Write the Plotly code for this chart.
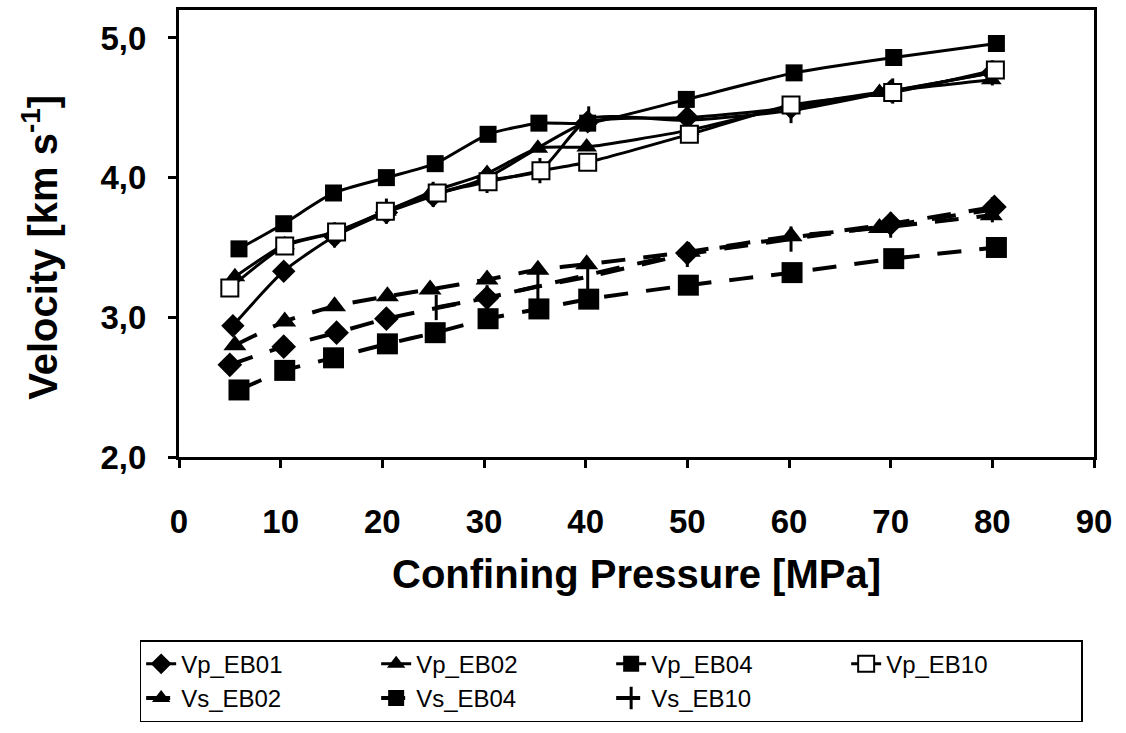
import plotly.graph_objects as go

# ---- data ----
vp_eb01_x = [5.3, 10.3, 15.3, 20.4, 25.0, 30.3, 40.2, 50.0, 60.2, 70.0, 80.0]
vp_eb01_y = [2.94, 3.33, 3.58, 3.75, 3.87, 4.00, 4.40, 4.43, 4.50, 4.62, 4.75]

vp_eb02_x = [5.5, 10.4, 15.3, 20.4, 24.9, 30.3, 35.3, 40.1, 50.2, 60.2, 68.9, 79.9]
vp_eb02_y = [3.29, 3.52, 3.61, 3.76, 3.90, 4.03, 4.21, 4.22, 4.34, 4.51, 4.61, 4.70]

vp_eb04_x = [5.9, 10.3, 15.2, 20.4, 25.2, 30.4, 35.4, 40.2, 49.9, 60.5, 70.3, 80.4]
vp_eb04_y = [3.49, 3.67, 3.89, 4.00, 4.10, 4.31, 4.39, 4.39, 4.56, 4.75, 4.86, 4.96]

vp_eb10_x = [5.0, 10.4, 15.5, 20.3, 25.4, 30.4, 35.6, 40.2, 50.2, 60.2, 70.2, 80.3]
vp_eb10_y = [3.21, 3.51, 3.61, 3.76, 3.89, 3.97, 4.05, 4.11, 4.31, 4.52, 4.61, 4.77]

# extra solid series with bar markers (not shown in the legend)
vp_bar_x = [15.3, 20.4, 25.0, 30.3, 35.5, 40.3, 50.0, 60.2, 70.2, 80.0]
vp_bar_y = [3.59, 3.76, 3.88, 3.98, 4.05, 4.42, 4.41, 4.48, 4.62, 4.75]

# extra dashed diamond series (not shown in the legend)
vs_eb01_x = [5.0, 10.3, 15.5, 20.4, 30.3, 50.0, 70.0, 80.2]
vs_eb01_y = [2.66, 2.79, 2.89, 2.99, 3.14, 3.46, 3.67, 3.79]

vs_eb02_x = [5.5, 10.4, 15.3, 20.5, 24.7, 30.3, 35.3, 40.1, 50.2, 60.2, 68.9, 79.9]
vs_eb02_y = [2.80, 2.97, 3.08, 3.15, 3.20, 3.27, 3.34, 3.38, 3.47, 3.58, 3.64, 3.73]

vs_eb04_x = [5.9, 10.4, 15.2, 20.5, 25.2, 30.4, 35.4, 40.3, 50.1, 60.3, 70.3, 80.4]
vs_eb04_y = [2.48, 2.62, 2.71, 2.81, 2.89, 2.99, 3.06, 3.13, 3.23, 3.32, 3.42, 3.50]

vs_eb10_x = [25.3, 30.3, 35.3, 40.2, 50.0, 60.2, 70.0, 80.0]
vs_eb10_y = [3.07, 3.14, 3.22, 3.29, 3.45, 3.56, 3.66, 3.77]

x_ticks = [0, 10, 20, 30, 40, 50, 60, 70, 80, 90]
y_ticks = [2.0, 3.0, 4.0, 5.0]

FONT = "Arial, Liberation Sans, sans-serif"
BLACK = "black"
DASH = "24px,18px"

fig = go.Figure()


def add(name, x, y, symbol, size, dash="solid", show=True, open_=False, lw=3):
    marker = dict(symbol=symbol, size=size, color="white" if open_ else BLACK,
                  line=dict(color=BLACK, width=2 if open_ else 0))
    if symbol.startswith("line"):
        marker = dict(symbol=symbol, size=size, color=BLACK,
                      line=dict(color=BLACK, width=3))
    fig.add_trace(go.Scatter(
        x=x, y=y, name=name, mode="lines+markers", showlegend=show,
        line=dict(color=BLACK, width=lw, dash=dash, shape="spline", smoothing=0.6),
        marker=marker,
    ))


# hidden series first (drawn beneath)
add("Vs_EB01", vs_eb01_x, vs_eb01_y, "diamond", 19, dash=DASH, show=False, lw=4)
add("Vp_EB10b", vp_bar_x, vp_bar_y, "line-ns", 18, show=False)

add("Vp_EB01", vp_eb01_x, vp_eb01_y, "diamond", 18)
add("Vp_EB02", vp_eb02_x, vp_eb02_y, "triangle-up", 18)
add("Vp_EB04", vp_eb04_x, vp_eb04_y, "square", 17)
add("Vp_EB10", vp_eb10_x, vp_eb10_y, "square", 17, open_=True)
add("Vs_EB02", vs_eb02_x, vs_eb02_y, "triangle-up", 20, dash=DASH, lw=4)
add("Vs_EB04", vs_eb04_x, vs_eb04_y, "square", 21, dash=DASH, lw=4)
add("Vs_EB10", vs_eb10_x, vs_eb10_y, "line-ns", 18, dash=DASH, lw=4)

fig.update_layout(
    width=1126, height=733,
    margin=dict(l=179, r=32, t=10, b=276, autoexpand=False),
    paper_bgcolor="white", plot_bgcolor="white",
    font=dict(family=FONT, color=BLACK),
    separators=",.",
    legend=dict(
        orientation="h", x=-0.043, y=-0.41, xanchor="left", yanchor="top",
        font=dict(family=FONT, size=24, color=BLACK),
        bordercolor=BLACK, borderwidth=1.5, bgcolor="white",
        entrywidth=190, entrywidthmode="pixels", traceorder="normal",
        itemsizing="trace", tracegroupgap=0,
    ),
    annotations=[dict(
        text="<b>Velocity [km s<sup>-1</sup>]</b>", textangle=-90,
        xref="paper", yref="paper", x=-0.152, y=0.47,
        xanchor="center", yanchor="middle", showarrow=False,
        font=dict(family=FONT, size=40, color=BLACK),
    )],
)

fig.update_xaxes(
    range=[0, 90], tickvals=x_ticks, ticktext=[str(v) for v in x_ticks],
    showgrid=False, zeroline=False,
    showline=True, linecolor=BLACK, linewidth=3, mirror=True,
    ticks="outside", ticklen=8, tickwidth=3, tickcolor=BLACK,
    tickfont=dict(family=FONT, size=33, color=BLACK, weight="bold"),
    ticklabelstandoff=25,
    title=dict(text="Confining Pressure [MPa]", standoff=22,
               font=dict(family=FONT, size=40, color=BLACK, weight="bold")),
)
fig.update_yaxes(
    range=[2.0, 5.2], tickvals=y_ticks, tickformat=".1f",
    showgrid=False, zeroline=False,
    showline=True, linecolor=BLACK, linewidth=3, mirror=True,
    ticks="outside", ticklen=8, tickwidth=3, tickcolor=BLACK,
    tickfont=dict(family=FONT, size=33, color=BLACK, weight="bold"),
    ticklabelstandoff=15,
)

fig.write_html("out.html")
